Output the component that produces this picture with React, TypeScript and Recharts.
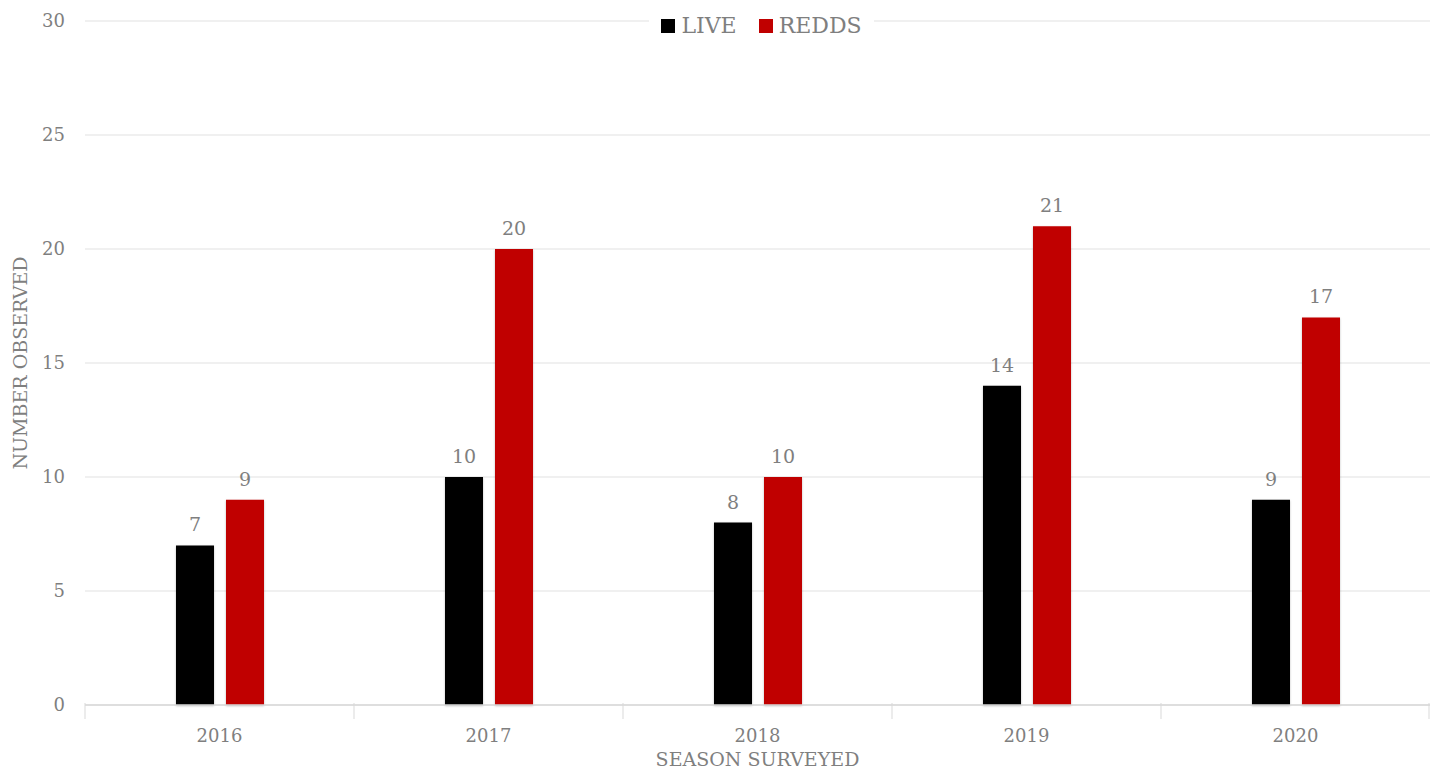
import React from 'react';
import { BarChart, Bar, XAxis, YAxis, CartesianGrid, Legend, LabelList, Label } from 'recharts';

const seasons = ['2016', '2017', '2018', '2019', '2020'];
const live = [7, 10, 8, 14, 9];
const redds = [9, 20, 10, 21, 17];
const yTicks = [0, 5, 10, 15, 20, 25, 30];
const seriesNames = ['LIVE', 'REDDS'];
const seriesColors = ['#000000', '#c00000'];

const data = seasons.map((s, i) => ({ season: s, live: live[i], redds: redds[i] }));

const FONT = '"DejaVu Serif", serif';
const TEXT = '#7f7f7f';

const XTick = (props: any) => {
  const { x, y, payload, index } = props;
  const half = payload.offset || 0;
  const isLast = index === seasons.length - 1;
  return (
    <g>
      <line x1={x - half} x2={x - half} y1={y - 10} y2={y + 6} stroke="#d9d9d9" />
      {isLast && <line x1={x + half - 1} x2={x + half - 1} y1={y - 10} y2={y + 6} stroke="#d9d9d9" />}
      <text x={x} y={y + 29} textAnchor="middle" fill={TEXT} fontSize={18} fontFamily={FONT}>
        {payload.value}
      </text>
    </g>
  );
};

const LegendContent = () => (
  <div style={{ display: 'flex', justifyContent: 'center', paddingLeft: 92 }}>
    <div style={{ display: 'flex', alignItems: 'center', background: '#fff', padding: '0 12px', fontFamily: FONT, fontSize: 22, color: TEXT, lineHeight: '24px' }}>
      {seriesNames.map((n, i) => (
        <span key={n} style={{ display: 'flex', alignItems: 'center', marginRight: i === 0 ? 22 : 0 }}>
          <span style={{ width: 14, height: 14, background: seriesColors[i], display: 'inline-block', marginRight: 6 }} />
          {n}
        </span>
      ))}
    </div>
  </div>
);

export default function App() {
  return (
    <div style={{ position: 'absolute', left: 0, top: 0, background: '#fff' }}>
      <BarChart
        width={1431}
        height={770}
        data={data}
        margin={{ top: 21, right: 1, bottom: 0, left: 0 }}
        barCategoryGap="33.5%"
        barGap={12}
      >
        <defs>
          <filter id="shadow" x="-20%" y="-5%" width="140%" height="110%">
            <feDropShadow dx="0" dy="1" stdDeviation="1.2" floodColor="#000" floodOpacity="0.25" />
          </filter>
        </defs>
        <CartesianGrid vertical={false} stroke="#ebebeb" strokeWidth={1.5} />
        <XAxis
          dataKey="season"
          height={65}
          tickLine={false}
          axisLine={{ stroke: '#d9d9d9', strokeWidth: 1.5 }}
          tick={<XTick />}
          interval={0}
        >
          <Label value="SEASON SURVEYED" position="insideBottom" offset={4} fill={TEXT} fontSize={19} fontFamily={FONT} />
        </XAxis>
        <YAxis
          width={85}
          domain={[0, 30]}
          ticks={yTicks}
          axisLine={false}
          tickLine={false}
          tickMargin={14}
          tick={{ fill: TEXT, fontSize: 18, fontFamily: FONT }}
        >
          <Label value="NUMBER OBSERVED" angle={-90} position="insideLeft" offset={20} fill={TEXT} fontSize={19} fontFamily={FONT} style={{ textAnchor: 'middle' }} />
        </YAxis>
        <Legend
          layout="horizontal"
          verticalAlign="middle"
          align="center"
          content={<LegendContent />}
          wrapperStyle={{ top: 14, left: 0, width: 1431 }}
        />
        <Bar dataKey="live" name={seriesNames[0]} fill={seriesColors[0]} barSize={38} isAnimationActive={false} filter="url(#shadow)">
          <LabelList dataKey="live" position="top" offset={14} fill={TEXT} fontSize={19} fontFamily={FONT} />
        </Bar>
        <Bar dataKey="redds" name={seriesNames[1]} fill={seriesColors[1]} barSize={38} isAnimationActive={false} filter="url(#shadow)">
          <LabelList dataKey="redds" position="top" offset={14} fill={TEXT} fontSize={19} fontFamily={FONT} />
        </Bar>
      </BarChart>
    </div>
  );
}
